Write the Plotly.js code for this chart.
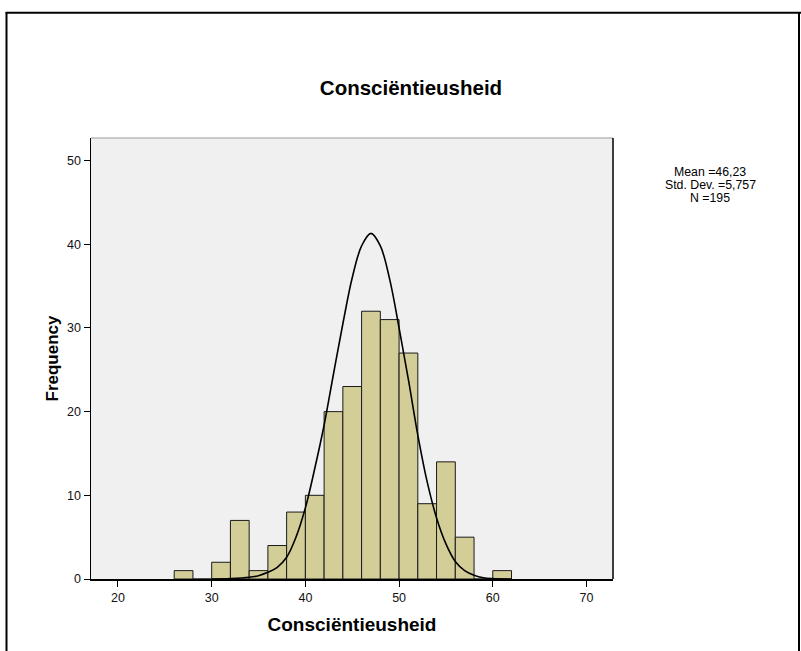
<!DOCTYPE html>
<html>
<head>
<meta charset="utf-8">
<script src="https://cdn.plot.ly/plotly-3.0.1.min.js"></script>
<style>
  html, body { margin: 0; padding: 0; background: #fff; }
  #chart { width: 801px; height: 651px; }
</style>
</head>
<body>
<div id="chart"></div>
<script>
// Histogram bins (centres, width 2) and frequencies
const binCenters = [27, 29, 31, 33, 35, 37, 39, 41, 43, 45, 47, 49, 51, 53, 55, 57, 59, 61];
const frequencies = [1, 0, 2, 7, 1, 4, 8, 10, 20, 23, 32, 31, 27, 9, 14, 5, 0, 1];

// Normal curve
const curveX = [30, 32, 34, 35, 36, 37, 38, 39, 40, 41, 42, 43, 44, 45, 46, 47, 48, 49, 50, 51, 52, 53, 54, 55, 56, 57, 58, 59, 60, 62];
const curveY = [0, 0.05, 0.2, 0.4, 0.8, 1.4, 2.6, 5.0, 8.5, 13.2, 18.4, 24.5, 30.5, 36.0, 39.8, 41.3, 39.8, 35.8, 30.0, 23.8, 17.2, 11.6, 7.3, 4.2, 2.1, 1.0, 0.45, 0.15, 0.05, 0];

const xTicks = [20, 30, 40, 50, 60, 70];
const yTicks = [0, 10, 20, 30, 40, 50];
const statsLines = ["Mean =46,23", "Std. Dev. =5,757", "N =195"];

const chartTitle = "Consciëntieusheid";
const xTitle = "Consciëntieusheid";
const yTitle = "Frequency";

// Layout geometry (pixels)
const W = 801, H = 651;
const L = 91, R = 613, T = 137.5, B = 579;
const px2x = p => (p - L) / (R - L);
const py2y = p => (B - p) / (B - T);

const FONT = "Liberation Sans, Arial, sans-serif";

const traces = [
  {
    type: "bar",
    x: binCenters,
    y: frequencies,
    width: 2,
    marker: { color: "#D3CE98", line: { color: "#1a1a1a", width: 1 } },
    hoverinfo: "x+y"
  },
  {
    type: "scatter",
    mode: "lines",
    x: curveX,
    y: curveY,
    line: { color: "#000", width: 1.6, shape: "spline", smoothing: 1 },
    hoverinfo: "skip"
  }
];

const statsY = [172, 185, 198];
const annotations = statsLines.map((t, i) => ({
  text: t,
  xref: "paper", yref: "paper",
  x: px2x(710), y: py2y(statsY[i]),
  xanchor: "center", yanchor: "middle",
  showarrow: false,
  font: { family: FONT, size: 12.3, color: "#000" }
}));

const shapes = [
  // frame
  { type: "line", xref: "paper", yref: "paper", x0: px2x(6.5), x1: px2x(6.5), y0: py2y(12), y1: py2y(660), line: { color: "#000", width: 2 } },
  { type: "line", xref: "paper", yref: "paper", x0: px2x(5.5), x1: px2x(810), y0: py2y(12), y1: py2y(12), line: { color: "#000", width: 2 } },
  { type: "line", xref: "paper", yref: "paper", x0: px2x(799), x1: px2x(799), y0: py2y(12), y1: py2y(660), line: { color: "#000", width: 2 } },
  // plot border top (grey) and right (black)
  { type: "line", xref: "paper", yref: "paper", x0: 0, x1: 1, y0: 1, y1: 1, line: { color: "#9a9a9a", width: 1 }, layer: "above" },
  { type: "line", xref: "paper", yref: "paper", x0: 1, x1: 1, y0: 0, y1: 1, line: { color: "#000", width: 1.5 }, layer: "above" }
];

const layout = {
  width: W, height: H,
  margin: { l: L, r: W - R, t: T, b: H - B, pad: 0 },
  paper_bgcolor: "#fff",
  plot_bgcolor: "#F0F0F0",
  showlegend: false,
  bargap: 0,
  title: {
    text: "<b>" + chartTitle + "</b>",
    font: { family: FONT, size: 20.5, color: "#000" },
    xref: "paper", x: px2x(411), xanchor: "center",
    yref: "container", y: 1 - 88 / H, yanchor: "middle"
  },
  xaxis: {
    range: [17.12, 72.83],
    tickvals: xTicks,
    ticks: "outside", ticklen: 6, tickwidth: 1, tickcolor: "#000",
    showline: true, linecolor: "#000", linewidth: 1.5,
    showgrid: false, zeroline: false,
    tickfont: { family: FONT, size: 12.5, color: "#111" },
    title: { text: "<b>" + xTitle + "</b>", font: { family: FONT, size: 19, color: "#000" }, standoff: 14 },
    automargin: false, fixedrange: true
  },
  yaxis: {
    range: [0, 52.7],
    tickvals: yTicks,
    ticks: "outside", ticklen: 6, tickwidth: 1, tickcolor: "#000",
    showline: true, linecolor: "#000", linewidth: 1.5,
    showgrid: false, zeroline: false,
    tickfont: { family: FONT, size: 12.5, color: "#111" },
    title: { text: "<b>" + yTitle + "</b>", font: { family: FONT, size: 17, color: "#000" }, standoff: 4 },
    automargin: false, fixedrange: true
  },
  annotations: annotations,
  shapes: shapes
};

Plotly.newPlot("chart", traces, layout, { displayModeBar: false, staticPlot: true });
</script>
</body>
</html>
